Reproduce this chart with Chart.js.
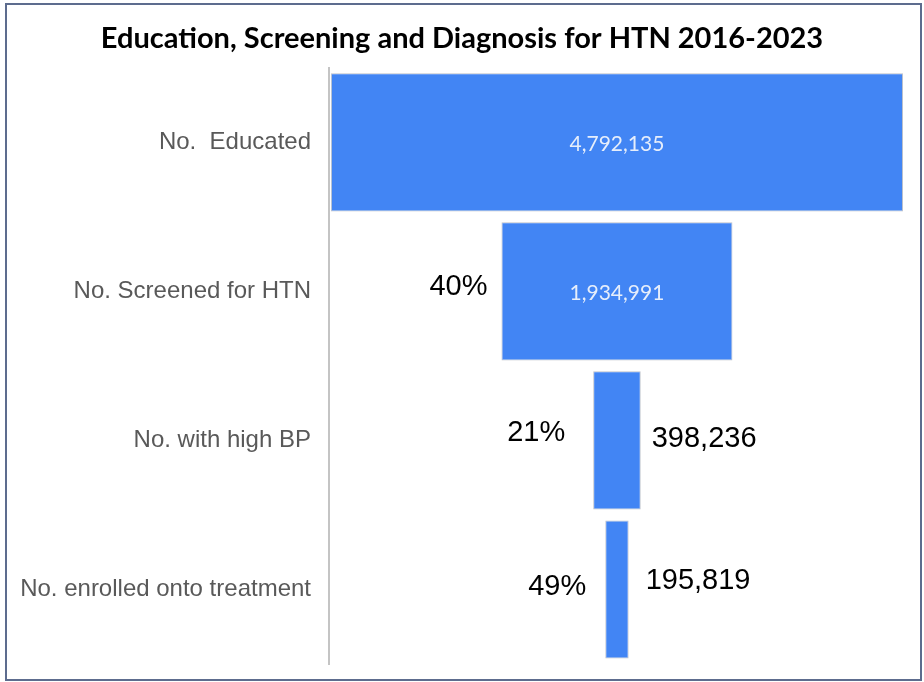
<!DOCTYPE html>
<html>
<head>
<meta charset="utf-8">
<script src="https://cdn.jsdelivr.net/npm/chart.js@4"></script>
<style>
  html, body { margin: 0; padding: 0; background: #fff; }
  #wrap { position: relative; width: 924px; height: 682px; }
  #frame {
    position: absolute; left: 5px; top: 3px; width: 917px; height: 678px;
    box-sizing: border-box; border: 2px solid #5d6c8e; pointer-events: none;
  }
</style>
</head>
<body>
<div id="wrap">
  <canvas id="funnelChart" width="924" height="682"></canvas>
  <div id="frame"></div>
</div>
<script>
const categories = [
  "No.  Educated",
  "No. Screened for HTN",
  "No. with high BP",
  "No. enrolled onto treatment",
];
const counts = [4792135, 1934991, 398236, 195819];
// conversion from the step above, as printed on the chart
const stepPercent = [null, 40, 21, 49];

const barColor = "#4285f4";
// the funnel centre sits a little left of the plot centre
const xMin = -2412000;
const xMax = 2488000;

// funnel: each bar is centred on zero
const floatingBars = counts.map((v) => [-v / 2, v / 2]);

// hand placed labels in the original: small per-bar nudges (px)
const labelNudge = {
  percent: [null, { dx: -14, dy: -4 }, { dx: -28, dy: -7 }, { dx: -19, dy: -2 }],
  value: [null, null, { dx: 11, dy: -1 }, { dx: 17, dy: -8 }],
};

const funnelLabels = {
  id: "funnelLabels",
  afterDatasetsDraw(chart) {
    const ctx = chart.ctx;
    const meta = chart.getDatasetMeta(0);
    ctx.save();
    ctx.textBaseline = "middle";
    meta.data.forEach((bar, i) => {
      const left = Math.min(bar.x, bar.base);
      const right = Math.max(bar.x, bar.base);
      const text = counts[i].toLocaleString("en-US");
      if (right - left > 150) {
        ctx.font = "21px Lato";
        ctx.fillStyle = "#e6eefb";
        ctx.textAlign = "center";
        ctx.fillText(text, (left + right) / 2, bar.y + 2);
      } else {
        const n = labelNudge.value[i];
        ctx.font = "29px 'Liberation Sans', Arial";
        ctx.fillStyle = "#000";
        ctx.textAlign = "left";
        ctx.fillText(text, right + n.dx, bar.y + n.dy);
      }
      if (stepPercent[i] != null) {
        const n = labelNudge.percent[i];
        ctx.font = "29px 'Liberation Sans', Arial";
        ctx.fillStyle = "#000";
        ctx.textAlign = "right";
        ctx.fillText(stepPercent[i] + "%", left + n.dx, bar.y + n.dy);
      }
    });
    ctx.restore();
  },
};

const ctx = document.getElementById("funnelChart").getContext("2d");
new Chart(ctx, {
  type: "bar",
  data: {
    labels: categories,
    datasets: [
      {
        data: floatingBars,
        backgroundColor: barColor,
        borderColor: "rgba(110,120,140,0.45)",
        borderWidth: 1,
        borderSkipped: false,
        categoryPercentage: 1,
        barPercentage: 0.927,
      },
    ],
  },
  options: {
    indexAxis: "y",
    responsive: false,
    animation: false,
    layout: {
      padding: { top: 0, right: 10, bottom: 18, left: 10 },
    },
    plugins: {
      legend: { display: false },
      tooltip: { enabled: false },
      title: {
        display: true,
        text: "Education, Screening and Diagnosis for HTN 2016-2023",
        color: "#000",
        font: { family: "Lato", size: 29, weight: "bold" },
        padding: { top: 21, bottom: 12 },
      },
    },
    scales: {
      x: {
        display: false,
        min: xMin,
        max: xMax,
      },
      y: {
        afterFit: (scale) => {
          scale.width = 319;
          // labels sit mid-band, no overflow room needed
          scale.paddingTop = 0;
          scale.paddingBottom = 0;
        },
        grid: { display: false, drawTicks: false },
        border: { display: true, color: "#c4c4c4", width: 2 },
        ticks: {
          color: "#595959",
          padding: 18,
          font: { family: "'Liberation Sans', Arial", size: 24 },
        },
      },
    },
  },
  plugins: [funnelLabels],
});
</script>
</body>
</html>
